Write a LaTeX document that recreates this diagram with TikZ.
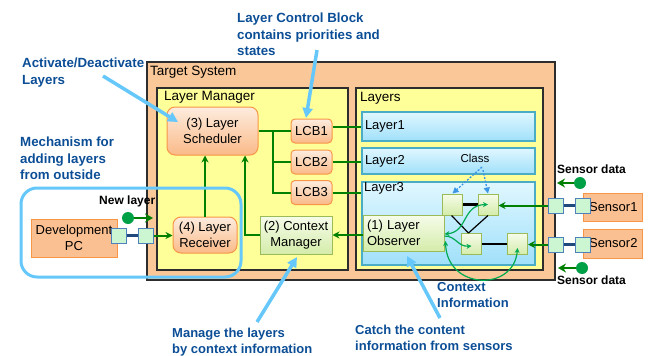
\documentclass[tikz,border=0pt]{standalone}
\usepackage{fontspec}
\setmainfont{Liberation Sans}
\usetikzlibrary{arrows.meta,calc}

\definecolor{sysfill}{RGB}{250,200,152}
\definecolor{mgrfill}{RGB}{255,255,153}
\definecolor{frame}{RGB}{45,45,45}
\definecolor{orgtop}{RGB}{253,236,222}
\definecolor{orgbot}{RGB}{250,186,136}
\definecolor{orgline}{RGB}{247,150,70}
\definecolor{pcfill}{RGB}{251,192,145}
\definecolor{laytop}{RGB}{224,247,255}
\definecolor{laybot}{RGB}{160,224,250}
\definecolor{layline}{RGB}{75,172,198}
\definecolor{grntop}{RGB}{246,252,234}
\definecolor{grnbot}{RGB}{212,236,170}
\definecolor{grnline}{RGB}{155,187,89}
\definecolor{portfill}{RGB}{204,246,210}
\definecolor{portline}{RGB}{79,129,189}
\definecolor{link}{RGB}{31,73,125}
\definecolor{flow}{RGB}{0,128,0}
\definecolor{ctx}{RGB}{0,170,80}
\definecolor{note}{RGB}{12,78,150}
\definecolor{callout}{RGB}{102,200,250}
\definecolor{classarrow}{RGB}{60,150,230}
\definecolor{gdotfill}{RGB}{0,160,70}

\newcommand\fsz[2]{\fontsize{#1}{#2}\selectfont}

\tikzset{
  container/.style={draw=frame, line width=1.2pt, inner sep=0pt},
  lbl/.style={font=\fsz{13.5}{16}, inner sep=0pt},
  orgbox/.style={draw=orgline, line width=1pt, top color=orgtop, bottom color=orgbot,
    rounded corners=8pt, align=center, font=\fsz{13}{16}, inner sep=0pt},
  lcbbox/.style={orgbox, rounded corners=4pt, minimum width=41pt, minimum height=24pt},
  plainorg/.style={draw=orgline, line width=1pt, fill=pcfill, align=center,
    font=\fsz{13}{15.5}, inner sep=0pt},
  sensorbox/.style={plainorg, text width=50pt, inner xsep=4.5pt, align=right, minimum width=59pt},
  laybox/.style={draw=layline, line width=1.2pt, top color=laytop, bottom color=laybot,
    minimum width=173pt, font=\fsz{13}{16}, inner sep=0pt},
  grnbox/.style={draw=grnline, line width=1pt, top color=grntop, bottom color=grnbot,
    font=\fsz{13}{16}, inner sep=0pt},
  sq/.style={grnbox, minimum width=20pt, minimum height=21pt},
  port/.style={draw=portline, line width=1pt, fill=portfill, minimum size=15pt, inner sep=0pt},
  portlink/.style={draw=link, line width=3pt},
  flowline/.style={draw=flow, line width=2pt},
  flowarrow/.style={flowline, -{Stealth[length=7pt,width=7pt]}},
  ctxcurve/.style={draw=ctx, line width=1.2pt},
  wire/.style={draw=black, line width=2.2pt},
  thinwire/.style={draw=black, line width=1.2pt},
  notetext/.style={text=note, font=\bfseries\fsz{13.3}{16.5}, align=left, inner sep=0pt, anchor=north west},
  callarrow/.style={draw=callout, line width=3.5pt, -{Triangle[length=10pt,width=10pt]}},
  classlink/.style={draw=classarrow, line width=1.3pt, dash pattern=on 2pt off 1.6pt,
    -{Triangle[length=6pt,width=6pt]}},
  gdot/.style={circle, fill=gdotfill, minimum size=12pt, inner sep=0pt},
  dotarrow/.style={draw=flow, line width=2.5pt, -{Stealth[length=8pt,width=9pt]}},
  tag/.style={font=\bfseries\fsz{12}{14}, inner sep=0pt}
}

\begin{document}
\begin{tikzpicture}[x=1pt,y=-1pt]
\useasboundingbox (0,0) rectangle (648,356);

% containers
\node[container, fill=sysfill, minimum width=408pt, minimum height=218pt] (sys) at (351,171) {};
\node[container, fill=mgrfill, minimum width=191pt, minimum height=182pt] (mgr) at (252.5,179) {};
\node[container, fill=mgrfill, minimum width=187pt, minimum height=182pt] (lay) at (449.5,179) {};
\node[lbl, anchor=west] (syslbl) at (150,72) {Target System};
\node[lbl, anchor=west] (mgrlbl) at (164,97) {Layer Manager};
\node[lbl, anchor=west] (laylbl) at (360,98) {Layers};

% layer manager blocks
\node[orgbox, minimum width=91pt, minimum height=48pt] (sched) at (212.5,131) {(3) Layer\\Scheduler};
\node[lcbbox] (lcb1) at (311.5,131) {LCB1};
\node[lcbbox] (lcb2) at (311.5,162) {LCB2};
\node[lcbbox] (lcb3) at (311.5,192.5) {LCB3};
\node[orgbox, minimum width=64pt, minimum height=36pt] (recv) at (205,235) {(4) Layer\\Receiver};
\node[grnbox, align=center, minimum width=72pt, minimum height=38pt] (cm) at (296,235) {(2) Context\\Manager};

% layers
\node[laybox, minimum height=29pt, text width=167pt, inner xsep=3pt, align=left] (layer1) at (448.5,126.5) {Layer1};
\node[laybox, minimum height=26pt, text width=167pt, inner xsep=3pt, align=left] (layer2) at (448.5,161) {Layer2};
\node[laybox, minimum height=83pt] (layer3) at (448.5,223.5) {};
\node[font=\fsz{13}{16}, inner sep=0pt, anchor=west] (layer3lbl) at (364,188) {Layer3};
\node[font=\fsz{11.5}{14}, inner sep=0pt] (cls) at (475,158) {Class};
\node[grnbox, text width=73pt, inner xsep=4pt, align=left, minimum height=36pt] (obs) at (403.5,233) {(1) Layer\\Observer};

% class instances inside Layer3
\node[sq] (A) at (452.5,204.5) {};
\node[sq] (B) at (488,204.5) {};
\node[sq] (C) at (471.5,244) {};
\node[sq] (D) at (517.5,244) {};
\draw[wire] (A.east) -- (B.west);
\draw[wire] (C.east) -- (D.west);
\draw[thinwire] ([xshift=-1pt]A.south) -- ([xshift=-3pt]C.north);
\draw[thinwire] (B.south) -- ([xshift=-3pt]C.north);

% class links
\coordinate (clsA) at (482,167);
\coordinate (clsB) at (483,170);
\draw[classlink] (clsA) -- (A.north);
\draw[classlink] (clsB) -- (B.north);

% manager wiring
\coordinate (bus) at (273,131);
\draw[flowline] (sched.east) -- (lcb1.west);
\draw[flowline] (bus) |- (lcb3.west);
\draw[flowline] (bus |- lcb2.west) -- (lcb2.west);
\draw[flowline] (lcb1.east |- layer1.west) -- (layer1.west);
\draw[flowline] (lcb2.east) -- (lcb2.east -| layer2.west);
\draw[flowline] (lcb3.east) -- (lcb3.east -| layer3.west);
\draw[flowarrow] (recv.north) -- (recv.north |- sched.south);
\draw[flowarrow] (cm.west) -| ([xshift=32.5pt]sched.south);
\draw[flowarrow] (obs.west |- cm.east) -- (cm.east);

% development PC
\node[plainorg, minimum width=86pt, minimum height=38pt] (pc) at (74,238) {Development\\PC};
\node[port] (dp1) at (119,235.5) {};
\node[port] (dp2) at (146,235.5) {};
\draw[portlink] (dp1.east) -- (dp2.west);
\draw[flowarrow] (dp2.east) -- (recv.west |- dp2.east);

% sensors
\node[sensorbox, minimum height=28pt] (sen1) at (612.5,207) {Sensor1};
\node[sensorbox, minimum height=29pt] (sen2) at (612.5,243.5) {Sensor2};
\node[port] (s1a) at (555.5,205.5) {};
\node[port] (s1b) at (582.5,205.5) {};
\node[port] (s2a) at (555.5,244.5) {};
\node[port] (s2b) at (582.5,244.5) {};
\draw[portlink] (s1a.east) -- (s1b.west);
\draw[portlink] (s2a.east) -- (s2b.west);
\draw[flowarrow] (s1a.west) -- (s1a.west -| B.east);
\draw[flowarrow] (s2a.west) -- (s2a.west -| D.east);

% context information flowing to the observer
\draw[ctxcurve, {Stealth[length=5pt,width=5pt]}-{Stealth[length=5pt,width=5pt]}]
  ([yshift=-1pt]obs.east) .. controls (468,232) and (462,205) .. (B.center);
\draw[ctxcurve, -{Stealth[length=5pt,width=5pt]}]
  ([yshift=-3pt]obs.east) .. controls (456,236) and (458,247) .. ([yshift=-2pt]C.center);
\draw[ctxcurve, {Stealth[length=5pt,width=5pt]}-{Stealth[length=5pt,width=5pt]}]
  ([xshift=1pt,yshift=-8pt]obs.east) .. controls (447,290) and (514,292) .. ([yshift=-4pt]D.center);

% external inputs
\node[tag, anchor=west] (newlbl) at (99,201) {New layer};
\node[gdot] (newdot) at (128,218) {};
\coordinate (newtip) at (153,218);
\draw[dotarrow] (newdot.east) -- (newtip);

\node[tag, anchor=west] (sd1) at (557,169) {Sensor data};
\node[gdot] (sdot1) at (580,183) {};
\coordinate (stip1) at (557,183);
\draw[dotarrow] (sdot1.west) -- (stip1);

\node[tag, anchor=west] (sd2) at (557,280) {Sensor data};
\node[gdot] (sdot2) at (582,268) {};
\coordinate (stip2) at (558,268);
\draw[dotarrow] (sdot2.west) -- (stip2);

% grouping of the external layer path
\node[draw=callout, line width=3pt, rounded corners=16pt, minimum width=220pt, minimum height=89pt, inner sep=0pt] (grp) at (131,232.5) {};

% annotations
\node[notetext] (nlcb) at (237,13) {Layer Control Block\\contains priorities and\\states};
\node[notetext] (nact) at (22,58) {Activate/Deactivate\\Layers};
\node[notetext] (nmech) at (20,137) {Mechanism for\\adding layers\\from outside};
\node[notetext, font=\bfseries\fsz{13}{15.5}] (nmng) at (172,328) {Manage the layers\\by context information};
\node[notetext, font=\bfseries\fsz{13}{16}] (ncatch) at (355,325) {Catch the content\\information from sensors};
\node[notetext, font=\bfseries\fsz{13}{16}] (nctx) at (437,282) {Context\\Information};

\coordinate (c1s) at (103,76);  \coordinate (c1e) at (178,122);
\coordinate (c2s) at (317,50);  \coordinate (c2e) at (306,118);
\coordinate (c3s) at (257,322); \coordinate (c3e) at (297,257);
\coordinate (c4s) at (440,318); \coordinate (c4e) at (407,256);
\draw[callarrow] (c1s) -- (c1e);
\draw[callarrow] (c2s) -- (c2e);
\draw[callarrow] (c3s) -- (c3e);
\draw[callarrow] (c4s) -- (c4e);
\end{tikzpicture}
\end{document}
